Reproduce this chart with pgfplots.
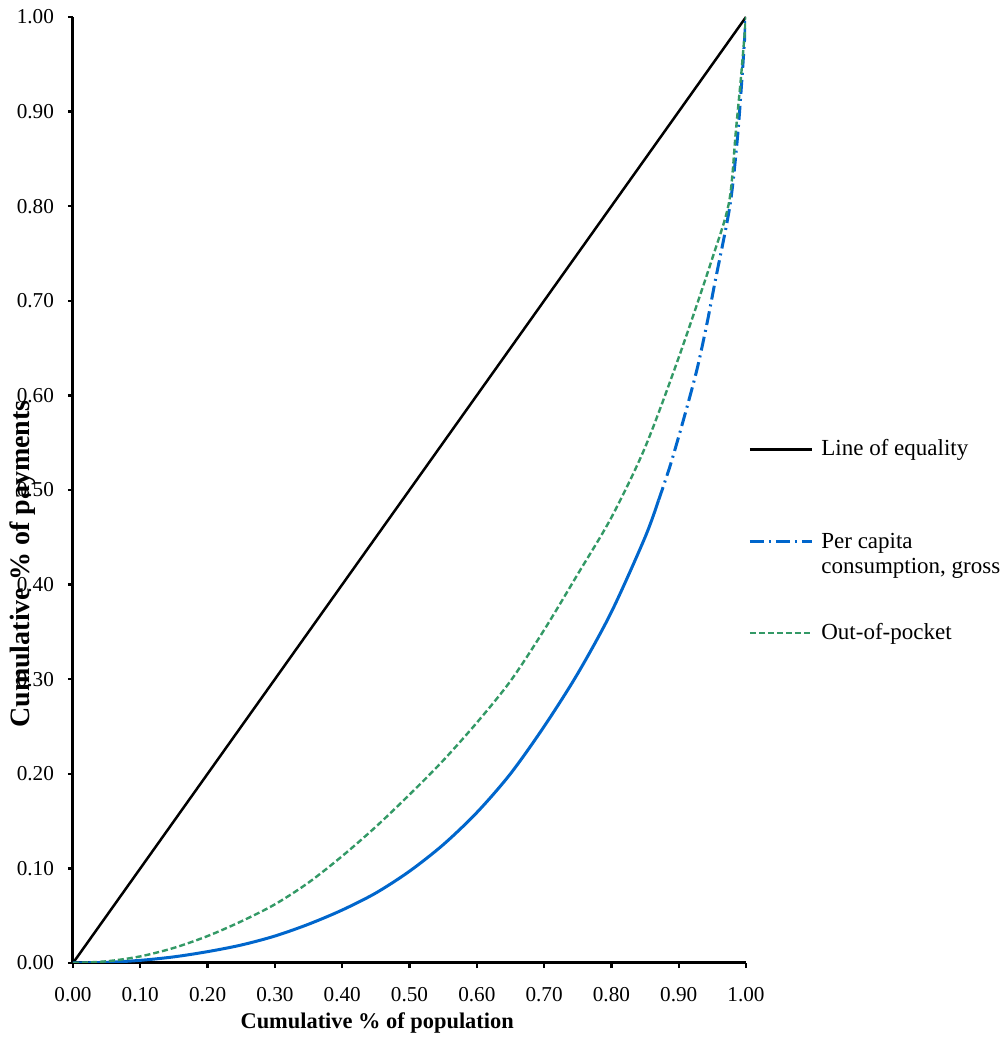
\documentclass[border=0pt]{standalone}
\usepackage{fontspec}
\setmainfont{Liberation Serif}
\usepackage{pgfplots}
\pgfplotsset{compat=1.18}
\definecolor{eqline}{HTML}{000000}
\definecolor{pcblue}{HTML}{0066CC}
\definecolor{oopgreen}{HTML}{339966}

\begin{document}
\begin{tikzpicture}
\begin{axis}[
  scale only axis, width=336.5pt, height=473pt,
  xmin=0, xmax=1, ymin=0, ymax=1,
  xtick={0,0.1,0.2,0.3,0.4,0.5,0.6,0.7,0.8,0.9,1},
  ytick={0,0.1,0.2,0.3,0.4,0.5,0.6,0.7,0.8,0.9,1},
  axis x line=bottom, axis y line=left,
  axis line style={line width=1.5pt, -},
  tick align=outside, major tick length=2.5pt,
  tick style={line width=1.2pt, black},
  every tick label/.style={font=\fontsize{10.6}{12}\selectfont},
  x tick label style={yshift=-6pt},
  y tick label style={xshift=-3.5pt},
  /pgf/number format/assume math mode=true,
  /pgf/number format/.cd, fixed, fixed zerofill, precision=2,
  /pgfplots/.cd,
  xlabel={\textbf{Cumulative \% of population}},
  ylabel={\textbf{Cumulative \% of payments}},
  xlabel style={font=\fontsize{11.2}{13}\selectfont, at={(axis description cs:0.452,0)}, anchor=center, yshift=-30pt},
  ylabel style={font=\fontsize{14}{16}\selectfont, at={(axis description cs:-0.0743,0.4218)}, anchor=center},
  legend style={draw=none, fill=none, at={(axis description cs:0.994,0.562)}, anchor=north west,
    font=\fontsize{11.5}{12.5}\selectfont, row sep=19.5pt, cells={align=left}},
  legend cell align=left,
  legend image code/.code={\draw[#1] (0pt,0pt) -- (31pt,0pt); \path (33pt,0pt);},
]
\addplot[eqline, line width=1.25pt] coordinates {(0,0) (1,1)};
% per capita consumption: solid lower part, dash-dot where the points thin out
\addplot[pcblue, line width=1.5pt, smooth, forget plot] coordinates {
(0,0) (0.05,0.0007) (0.1,0.0028) (0.15,0.0065) (0.2,0.012) (0.25,0.019)
(0.3,0.0285) (0.35,0.041) (0.4,0.056) (0.45,0.074) (0.5,0.097)
(0.55,0.125) (0.6,0.159) (0.65,0.200) (0.7,0.250) (0.75,0.306)
(0.8,0.371) (0.85,0.450) (0.87,0.489)};
\addplot[pcblue, line width=1.5pt, smooth, dash pattern=on 7pt off 2.5pt on 1pt off 2.5pt] coordinates {
(0.87,0.489) (0.887,0.525) (0.907,0.574) (0.927,0.627) (0.942,0.676)
(0.954,0.72) (0.976,0.80) (0.987,0.87) (0.994,0.935) (1,1)};
\addplot[oopgreen, line width=1.2pt, smooth, dash pattern=on 3pt off 1.5pt] coordinates {
(0,0) (0.05,0.0018) (0.1,0.007) (0.15,0.016) (0.2,0.0285) (0.25,0.044)
(0.3,0.062) (0.35,0.085) (0.4,0.113) (0.45,0.144) (0.5,0.178)
(0.55,0.214) (0.6,0.254) (0.65,0.298) (0.7,0.352) (0.75,0.411)
(0.8,0.471) (0.85,0.545) (0.9,0.640) (0.95,0.745) (0.975,0.805)
(0.985,0.88) (0.993,0.94) (1,1)};
\legend{Line of equality, {\strut\\Per capita\\consumption, gross}, Out-of-pocket}
\end{axis}
\pgfresetboundingbox
\path (current axis.south west) ++(-36.5pt,-37.5pt) coordinate (bbA);
\path (current axis.north east) ++(130.5pt,8.5pt) coordinate (bbB);
\useasboundingbox (bbA) rectangle (bbB);
\end{tikzpicture}
\end{document}
